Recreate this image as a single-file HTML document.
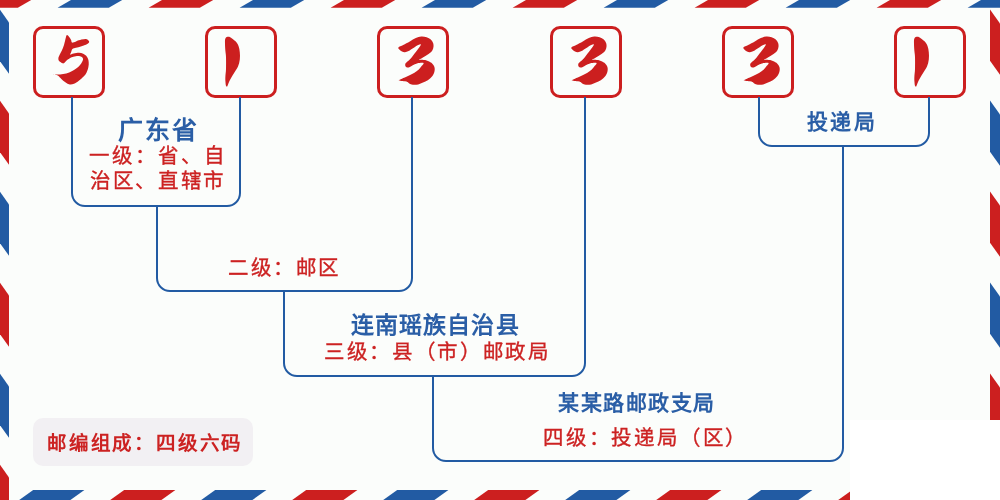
<!DOCTYPE html>
<html lang="zh-CN"><head><meta charset="utf-8"><style>
html,body{margin:0;padding:0;width:1000px;height:500px;overflow:hidden;background:#fbfdfb}
body{position:relative;font-family:"Liberation Serif",serif;-webkit-font-smoothing:antialiased}
svg{position:absolute;left:0;top:0}
.t{position:absolute;line-height:1;white-space:nowrap;will-change:transform}
.r{-webkit-text-stroke:0.35px currentColor}
</style></head><body>
<svg width="1000" height="500" viewBox="0 0 1000 500">
<polygon fill="#225ba3" points="-124.4,7.8 -73.2,7.8 -59.8,0 -111.0,0"/>
<polygon fill="#cc1f1f" points="-33.4,7.8 17.8,7.8 31.2,0 -20.0,0"/>
<polygon fill="#225ba3" points="57.6,7.8 108.8,7.8 122.2,0 71.0,0"/>
<polygon fill="#cc1f1f" points="148.6,7.8 199.8,7.8 213.2,0 162.0,0"/>
<polygon fill="#225ba3" points="239.6,7.8 290.8,7.8 304.2,0 253.0,0"/>
<polygon fill="#cc1f1f" points="330.6,7.8 381.8,7.8 395.2,0 344.0,0"/>
<polygon fill="#225ba3" points="421.6,7.8 472.8,7.8 486.2,0 435.0,0"/>
<polygon fill="#cc1f1f" points="512.6,7.8 563.8,7.8 577.2,0 526.0,0"/>
<polygon fill="#225ba3" points="603.6,7.8 654.8,7.8 668.2,0 617.0,0"/>
<polygon fill="#cc1f1f" points="694.6,7.8 745.8,7.8 759.2,0 708.0,0"/>
<polygon fill="#225ba3" points="785.6,7.8 836.8,7.8 850.2,0 799.0,0"/>
<polygon fill="#cc1f1f" points="876.6,7.8 927.8,7.8 941.2,0 890.0,0"/>
<polygon fill="#225ba3" points="967.6,7.8 1018.8,7.8 1032.2,0 981.0,0"/>
<polygon fill="#cc1f1f" points="-57.8,490 -6.6,490 -20.6,500 -71.8,500"/>
<polygon fill="#225ba3" points="33.2,490 84.4,490 70.4,500 19.2,500"/>
<polygon fill="#cc1f1f" points="124.2,490 175.4,490 161.4,500 110.2,500"/>
<polygon fill="#225ba3" points="215.2,490 266.4,490 252.4,500 201.2,500"/>
<polygon fill="#cc1f1f" points="306.2,490 357.4,490 343.4,500 292.2,500"/>
<polygon fill="#225ba3" points="397.2,490 448.4,490 434.4,500 383.2,500"/>
<polygon fill="#cc1f1f" points="488.2,490 539.4,490 525.4,500 474.2,500"/>
<polygon fill="#225ba3" points="579.2,490 630.4,490 616.4,500 565.2,500"/>
<polygon fill="#cc1f1f" points="670.2,490 721.4,490 707.4,500 656.2,500"/>
<polygon fill="#225ba3" points="761.2,490 812.4,490 798.4,500 747.2,500"/>
<polygon fill="#cc1f1f" points="852.2,490 903.4,490 889.4,500 838.2,500"/>
<polygon fill="#225ba3" points="943.2,490 994.4,490 980.4,500 929.2,500"/>
<polygon fill="#cc1f1f" points="1034.2,490 1085.4,490 1071.4,500 1020.2,500"/>
<polygon fill="#cc1f1f" points="0,-81.2 9,-68.6 9,-17.2 0,-29.8"/>
<polygon fill="#225ba3" points="0,9.8 9,22.4 9,73.8 0,61.2"/>
<polygon fill="#cc1f1f" points="0,100.8 9,113.4 9,164.8 0,152.2"/>
<polygon fill="#225ba3" points="0,191.8 9,204.4 9,255.8 0,243.2"/>
<polygon fill="#cc1f1f" points="0,282.8 9,295.4 9,346.8 0,334.2"/>
<polygon fill="#225ba3" points="0,373.8 9,386.4 9,437.8 0,425.2"/>
<polygon fill="#cc1f1f" points="0,464.8 9,477.4 9,528.8 0,516.2"/>
<polygon fill="#225ba3" points="0,555.8 9,568.4 9,619.8 0,607.2"/>
<polygon fill="#225ba3" points="990,-81.5 1000,-67.5 1000,-16.3 990,-30.3"/>
<polygon fill="#cc1f1f" points="990,9.5 1000,23.5 1000,74.7 990,60.7"/>
<polygon fill="#225ba3" points="990,100.5 1000,114.5 1000,165.7 990,151.7"/>
<polygon fill="#cc1f1f" points="990,191.5 1000,205.5 1000,256.7 990,242.7"/>
<polygon fill="#225ba3" points="990,282.5 1000,296.5 1000,347.7 990,333.7"/>
<polygon fill="#cc1f1f" points="990,373.5 1000,387.5 1000,438.7 990,424.7"/>
<polygon fill="#225ba3" points="990,464.5 1000,478.5 1000,529.7 990,515.7"/>
<polygon fill="#cc1f1f" points="990,555.5 1000,569.5 1000,620.7 990,606.7"/>
<rect x="850" y="420" width="150" height="80" fill="#ffffff"/>
<rect x="34.5" y="27.5" width="69" height="69" rx="8.5" fill="none" stroke="#cc1f1f" stroke-width="3"/>
<path fill="#cc1f1f" transform="translate(33.0,0)" d="M34.0,35.1 C34.6,35.0 35.7,36.4 36.4,37.2 C37.1,38.1 37.8,39.3 38.2,40.2 C38.6,41.1 38.3,42.4 39.1,42.6 C39.9,42.8 41.4,41.9 43.0,41.4 C44.6,40.9 46.8,40.0 48.4,39.6 C50.0,39.2 51.5,39.0 52.6,39.0 C53.7,39.0 54.4,39.4 55.0,39.9 C55.6,40.4 56.2,41.2 56.2,41.7 C56.2,42.2 56.0,42.7 55.3,43.2 C54.6,43.8 53.2,44.5 52.0,45.0 C50.8,45.5 49.3,46.0 47.8,46.5 C46.3,47.0 44.4,47.3 43.0,47.7 C41.6,48.1 40.3,48.0 39.4,48.9 C38.6,49.8 38.3,51.8 37.9,52.8 C37.5,53.8 36.6,54.5 37.0,54.6 C37.4,54.7 39.1,53.7 40.6,53.4 C42.1,53.1 44.4,52.8 46.0,52.8 C47.6,52.8 49.0,53.2 50.2,53.7 C51.4,54.2 52.4,54.9 53.2,55.8 C54.0,56.6 54.6,57.7 55.0,58.8 C55.4,59.9 55.6,60.8 55.7,62.2 C55.8,63.6 55.8,65.3 55.4,67.0 C55.1,68.7 54.4,70.8 53.6,72.4 C52.8,74.0 51.9,75.2 50.6,76.6 C49.3,78.0 47.4,79.6 45.8,80.8 C44.2,82.0 42.5,83.2 41.0,83.8 C39.5,84.4 38.0,84.5 36.8,84.4 C35.6,84.3 34.9,83.8 33.8,83.2 C32.7,82.6 31.3,81.7 30.2,80.8 C29.1,79.9 28.1,78.7 27.2,77.8 C26.3,76.9 25.9,76.0 24.8,75.4 C23.6,74.9 20.4,74.7 20.3,74.5 C20.2,74.3 22.6,74.6 24.2,74.5 C25.9,74.4 28.2,74.2 30.2,73.9 C32.2,73.6 34.4,73.1 36.2,72.4 C38.0,71.8 39.5,70.9 41.0,70.0 C42.5,69.1 44.0,68.1 45.2,67.0 C46.4,65.9 47.4,64.6 48.2,63.4 C49.0,62.2 49.8,60.8 50.0,59.8 C50.2,58.8 49.9,58.0 49.4,57.4 C48.9,56.8 48.1,56.4 47.0,56.2 C45.9,56.0 44.3,56.0 42.8,56.2 C41.3,56.4 39.4,56.8 38.0,57.4 C36.6,58.0 35.4,59.0 34.4,59.8 C33.4,60.6 32.7,61.6 32.0,62.2 C31.3,62.8 30.9,63.4 30.2,63.4 C29.5,63.4 28.5,62.7 27.8,62.2 C27.0,61.7 26.1,61.1 25.7,60.4 C25.3,59.7 25.3,58.8 25.4,58.0 C25.5,57.2 25.7,57.0 26.2,55.8 C26.7,54.6 27.8,52.8 28.6,51.0 C29.4,49.2 30.3,47.2 31.0,45.0 C31.7,42.8 32.3,39.4 32.8,37.8 C33.3,36.1 33.4,35.2 34.0,35.1Z"/>
<rect x="206.5" y="27.5" width="69" height="69" rx="8.5" fill="none" stroke="#cc1f1f" stroke-width="3"/>
<path fill="#cc1f1f" transform="translate(205.0,0)" d="M20.4,38.4 C21.0,37.2 22.3,36.8 23.4,36.8 C24.5,36.8 25.7,37.5 27.0,38.4 C28.3,39.3 30.1,40.7 31.2,42.0 C32.3,43.3 33.0,44.5 33.6,46.2 C34.2,47.9 34.6,50.0 34.8,52.2 C35.0,54.4 35.1,57.0 34.8,59.4 C34.5,61.8 33.9,64.4 33.0,66.6 C32.1,68.8 30.6,70.6 29.4,72.6 C28.2,74.6 26.8,76.8 25.8,78.6 C24.8,80.4 24.0,82.1 23.4,83.4 C22.8,84.7 22.6,86.0 22.2,86.4 C21.8,86.8 21.3,86.7 21.0,85.8 C20.7,84.9 20.5,82.6 20.4,81.0 C20.3,79.4 20.3,78.2 20.4,76.2 C20.5,74.2 20.9,72.2 21.0,69.0 C21.1,65.8 21.1,60.0 21.0,57.0 C20.9,54.0 20.6,53.2 20.4,51.0 C20.2,48.8 20.0,45.9 20.0,43.8 C20.0,41.7 19.8,39.6 20.4,38.4Z"/>
<rect x="378.5" y="27.5" width="69" height="69" rx="8.5" fill="none" stroke="#cc1f1f" stroke-width="3"/>
<path fill="#cc1f1f" transform="translate(377.0,0)" d="M21.4,47.4 C22.0,46.6 24.3,46.0 26.2,45.0 C28.1,44.0 30.7,42.5 32.8,41.4 C34.9,40.2 36.9,38.9 38.8,38.1 C40.7,37.3 42.4,36.8 44.2,36.6 C46.0,36.5 48.0,36.7 49.6,37.2 C51.2,37.7 52.7,38.6 53.8,39.6 C54.9,40.6 55.7,42.0 56.2,43.2 C56.6,44.4 56.6,45.6 56.5,46.8 C56.4,48.0 55.9,49.4 55.3,50.4 C54.8,51.4 54.1,52.0 53.2,52.8 C52.2,53.6 51.0,54.3 49.6,55.2 C48.2,56.1 46.1,57.4 44.8,58.2 C43.5,59.0 41.9,59.7 41.8,60.0 C41.7,60.3 42.9,59.7 44.2,59.8 C45.5,59.9 47.9,59.9 49.6,60.4 C51.3,60.9 53.1,61.7 54.4,62.8 C55.7,63.9 56.9,65.5 57.4,67.0 C57.9,68.5 57.8,70.2 57.4,71.8 C57.0,73.4 56.1,75.2 55.0,76.6 C53.9,78.0 52.3,79.2 50.8,80.2 C49.3,81.2 47.6,81.9 46.0,82.6 C44.4,83.3 42.9,84.1 41.2,84.4 C39.5,84.8 37.3,84.9 35.8,84.7 C34.3,84.5 33.1,84.0 32.2,83.5 C31.3,83.0 31.5,82.4 30.4,82.0 C29.3,81.6 27.1,81.3 25.6,81.1 C24.2,80.8 21.8,80.9 21.7,80.5 C21.6,80.1 23.4,79.5 25.0,78.7 C26.6,78.0 29.0,77.0 31.0,76.0 C33.0,75.0 35.2,74.1 37.0,73.0 C38.8,71.9 40.5,70.6 41.8,69.4 C43.1,68.2 44.0,66.8 44.8,65.8 C45.6,64.8 46.6,63.9 46.6,63.4 C46.6,62.9 45.9,62.8 44.8,62.8 C43.7,62.8 41.5,63.0 40.0,63.4 C38.5,63.8 37.0,64.6 35.8,65.2 C34.6,65.8 33.7,66.6 32.8,67.0 C31.9,67.4 31.1,67.7 30.4,67.6 C29.7,67.5 29.0,67.0 28.6,66.4 C28.3,65.8 28.0,64.8 28.3,64.0 C28.6,63.2 29.4,62.6 30.4,61.6 C31.3,60.6 32.7,59.7 34.0,58.2 C35.3,56.7 36.9,54.5 38.2,52.8 C39.5,51.1 40.9,49.4 41.8,48.0 C42.8,46.6 44.0,44.9 43.9,44.4 C43.8,43.9 42.4,44.4 41.2,45.0 C39.9,45.6 38.0,47.0 36.4,48.0 C34.8,49.0 33.0,50.3 31.6,51.0 C30.2,51.7 29.1,52.1 28.0,52.2 C26.9,52.3 25.9,52.0 25.0,51.6 C24.1,51.2 23.2,50.5 22.6,49.8 C22.0,49.1 20.8,48.2 21.4,47.4Z"/>
<rect x="551.5" y="27.5" width="69" height="69" rx="8.5" fill="none" stroke="#cc1f1f" stroke-width="3"/>
<path fill="#cc1f1f" transform="translate(550.0,0)" d="M21.4,47.4 C22.0,46.6 24.3,46.0 26.2,45.0 C28.1,44.0 30.7,42.5 32.8,41.4 C34.9,40.2 36.9,38.9 38.8,38.1 C40.7,37.3 42.4,36.8 44.2,36.6 C46.0,36.5 48.0,36.7 49.6,37.2 C51.2,37.7 52.7,38.6 53.8,39.6 C54.9,40.6 55.7,42.0 56.2,43.2 C56.6,44.4 56.6,45.6 56.5,46.8 C56.4,48.0 55.9,49.4 55.3,50.4 C54.8,51.4 54.1,52.0 53.2,52.8 C52.2,53.6 51.0,54.3 49.6,55.2 C48.2,56.1 46.1,57.4 44.8,58.2 C43.5,59.0 41.9,59.7 41.8,60.0 C41.7,60.3 42.9,59.7 44.2,59.8 C45.5,59.9 47.9,59.9 49.6,60.4 C51.3,60.9 53.1,61.7 54.4,62.8 C55.7,63.9 56.9,65.5 57.4,67.0 C57.9,68.5 57.8,70.2 57.4,71.8 C57.0,73.4 56.1,75.2 55.0,76.6 C53.9,78.0 52.3,79.2 50.8,80.2 C49.3,81.2 47.6,81.9 46.0,82.6 C44.4,83.3 42.9,84.1 41.2,84.4 C39.5,84.8 37.3,84.9 35.8,84.7 C34.3,84.5 33.1,84.0 32.2,83.5 C31.3,83.0 31.5,82.4 30.4,82.0 C29.3,81.6 27.1,81.3 25.6,81.1 C24.2,80.8 21.8,80.9 21.7,80.5 C21.6,80.1 23.4,79.5 25.0,78.7 C26.6,78.0 29.0,77.0 31.0,76.0 C33.0,75.0 35.2,74.1 37.0,73.0 C38.8,71.9 40.5,70.6 41.8,69.4 C43.1,68.2 44.0,66.8 44.8,65.8 C45.6,64.8 46.6,63.9 46.6,63.4 C46.6,62.9 45.9,62.8 44.8,62.8 C43.7,62.8 41.5,63.0 40.0,63.4 C38.5,63.8 37.0,64.6 35.8,65.2 C34.6,65.8 33.7,66.6 32.8,67.0 C31.9,67.4 31.1,67.7 30.4,67.6 C29.7,67.5 29.0,67.0 28.6,66.4 C28.3,65.8 28.0,64.8 28.3,64.0 C28.6,63.2 29.4,62.6 30.4,61.6 C31.3,60.6 32.7,59.7 34.0,58.2 C35.3,56.7 36.9,54.5 38.2,52.8 C39.5,51.1 40.9,49.4 41.8,48.0 C42.8,46.6 44.0,44.9 43.9,44.4 C43.8,43.9 42.4,44.4 41.2,45.0 C39.9,45.6 38.0,47.0 36.4,48.0 C34.8,49.0 33.0,50.3 31.6,51.0 C30.2,51.7 29.1,52.1 28.0,52.2 C26.9,52.3 25.9,52.0 25.0,51.6 C24.1,51.2 23.2,50.5 22.6,49.8 C22.0,49.1 20.8,48.2 21.4,47.4Z"/>
<rect x="723.5" y="27.5" width="69" height="69" rx="8.5" fill="none" stroke="#cc1f1f" stroke-width="3"/>
<path fill="#cc1f1f" transform="translate(722.0,0)" d="M21.4,47.4 C22.0,46.6 24.3,46.0 26.2,45.0 C28.1,44.0 30.7,42.5 32.8,41.4 C34.9,40.2 36.9,38.9 38.8,38.1 C40.7,37.3 42.4,36.8 44.2,36.6 C46.0,36.5 48.0,36.7 49.6,37.2 C51.2,37.7 52.7,38.6 53.8,39.6 C54.9,40.6 55.7,42.0 56.2,43.2 C56.6,44.4 56.6,45.6 56.5,46.8 C56.4,48.0 55.9,49.4 55.3,50.4 C54.8,51.4 54.1,52.0 53.2,52.8 C52.2,53.6 51.0,54.3 49.6,55.2 C48.2,56.1 46.1,57.4 44.8,58.2 C43.5,59.0 41.9,59.7 41.8,60.0 C41.7,60.3 42.9,59.7 44.2,59.8 C45.5,59.9 47.9,59.9 49.6,60.4 C51.3,60.9 53.1,61.7 54.4,62.8 C55.7,63.9 56.9,65.5 57.4,67.0 C57.9,68.5 57.8,70.2 57.4,71.8 C57.0,73.4 56.1,75.2 55.0,76.6 C53.9,78.0 52.3,79.2 50.8,80.2 C49.3,81.2 47.6,81.9 46.0,82.6 C44.4,83.3 42.9,84.1 41.2,84.4 C39.5,84.8 37.3,84.9 35.8,84.7 C34.3,84.5 33.1,84.0 32.2,83.5 C31.3,83.0 31.5,82.4 30.4,82.0 C29.3,81.6 27.1,81.3 25.6,81.1 C24.2,80.8 21.8,80.9 21.7,80.5 C21.6,80.1 23.4,79.5 25.0,78.7 C26.6,78.0 29.0,77.0 31.0,76.0 C33.0,75.0 35.2,74.1 37.0,73.0 C38.8,71.9 40.5,70.6 41.8,69.4 C43.1,68.2 44.0,66.8 44.8,65.8 C45.6,64.8 46.6,63.9 46.6,63.4 C46.6,62.9 45.9,62.8 44.8,62.8 C43.7,62.8 41.5,63.0 40.0,63.4 C38.5,63.8 37.0,64.6 35.8,65.2 C34.6,65.8 33.7,66.6 32.8,67.0 C31.9,67.4 31.1,67.7 30.4,67.6 C29.7,67.5 29.0,67.0 28.6,66.4 C28.3,65.8 28.0,64.8 28.3,64.0 C28.6,63.2 29.4,62.6 30.4,61.6 C31.3,60.6 32.7,59.7 34.0,58.2 C35.3,56.7 36.9,54.5 38.2,52.8 C39.5,51.1 40.9,49.4 41.8,48.0 C42.8,46.6 44.0,44.9 43.9,44.4 C43.8,43.9 42.4,44.4 41.2,45.0 C39.9,45.6 38.0,47.0 36.4,48.0 C34.8,49.0 33.0,50.3 31.6,51.0 C30.2,51.7 29.1,52.1 28.0,52.2 C26.9,52.3 25.9,52.0 25.0,51.6 C24.1,51.2 23.2,50.5 22.6,49.8 C22.0,49.1 20.8,48.2 21.4,47.4Z"/>
<rect x="895.5" y="27.5" width="69" height="69" rx="8.5" fill="none" stroke="#cc1f1f" stroke-width="3"/>
<path fill="#cc1f1f" transform="translate(894.0,0)" d="M20.4,38.4 C21.0,37.2 22.3,36.8 23.4,36.8 C24.5,36.8 25.7,37.5 27.0,38.4 C28.3,39.3 30.1,40.7 31.2,42.0 C32.3,43.3 33.0,44.5 33.6,46.2 C34.2,47.9 34.6,50.0 34.8,52.2 C35.0,54.4 35.1,57.0 34.8,59.4 C34.5,61.8 33.9,64.4 33.0,66.6 C32.1,68.8 30.6,70.6 29.4,72.6 C28.2,74.6 26.8,76.8 25.8,78.6 C24.8,80.4 24.0,82.1 23.4,83.4 C22.8,84.7 22.6,86.0 22.2,86.4 C21.8,86.8 21.3,86.7 21.0,85.8 C20.7,84.9 20.5,82.6 20.4,81.0 C20.3,79.4 20.3,78.2 20.4,76.2 C20.5,74.2 20.9,72.2 21.0,69.0 C21.1,65.8 21.1,60.0 21.0,57.0 C20.9,54.0 20.6,53.2 20.4,51.0 C20.2,48.8 20.0,45.9 20.0,43.8 C20.0,41.7 19.8,39.6 20.4,38.4Z"/>
<path fill="none" stroke="#225ba3" stroke-width="2" d="M72.0,97.0 V193.0 A13.0,13.0 0 0 0 85.0,206.0 H227.0 A13.0,13.0 0 0 0 240.0,193.0 V97.0"/>
<path fill="none" stroke="#225ba3" stroke-width="2" d="M157.0,205.0 V278.0 A13.0,13.0 0 0 0 170.0,291.0 H399.0 A13.0,13.0 0 0 0 412.0,278.0 V97.0"/>
<path fill="none" stroke="#225ba3" stroke-width="2" d="M284.0,290.0 V363.0 A13.0,13.0 0 0 0 297.0,376.0 H572.0 A13.0,13.0 0 0 0 585.0,363.0 V97.0"/>
<path fill="none" stroke="#225ba3" stroke-width="2" d="M759.0,97.0 V133.0 A13.0,13.0 0 0 0 772.0,146.0 H916.0 A13.0,13.0 0 0 0 929.0,133.0 V97.0"/>
<path fill="none" stroke="#225ba3" stroke-width="2" d="M433.0,375.0 V448.0 A13.0,13.0 0 0 0 446.0,461.0 H830.0 A13.0,13.0 0 0 0 843.0,448.0 V146.0"/>
<rect x="33" y="418" width="220" height="48" rx="10" fill="#f2f0f3"/>
</svg>
<div class="t" style="left:118.00px;top:118.00px;font-size:25.0px;color:#2a5ea6;font-weight:bold;letter-spacing:2.00px">广东省</div>
<div class="t r" style="left:88.80px;top:146.40px;font-size:20.5px;color:#cc2222;font-weight:500;letter-spacing:2.96px">一级：省、自</div>
<div class="t r" style="left:89.60px;top:170.90px;font-size:20.5px;color:#cc2222;font-weight:500;letter-spacing:2.68px">治区、直辖市</div>
<div class="t r" style="left:228.40px;top:258.40px;font-size:20.5px;color:#cc2222;font-weight:500;letter-spacing:2.53px">二级：邮区</div>
<div class="t" style="left:351.40px;top:314.20px;font-size:23.0px;color:#2a5ea6;font-weight:bold;letter-spacing:1.10px">连南瑶族自治县</div>
<div class="t r" style="left:323.60px;top:342.20px;font-size:20.5px;color:#cc2222;font-weight:500;letter-spacing:2.67px">三级：县（市）邮政局</div>
<div class="t" style="left:558.00px;top:393.00px;font-size:21.0px;color:#2a5ea6;font-weight:bold;letter-spacing:1.50px">某某路邮政支局</div>
<div class="t r" style="left:543.00px;top:428.00px;font-size:20.5px;color:#cc2222;font-weight:500;letter-spacing:2.81px">四级：投递局（区）</div>
<div class="t" style="left:807.20px;top:111.80px;font-size:21.0px;color:#2a5ea6;font-weight:bold;letter-spacing:2.40px">投递局</div>
<div class="t" style="left:47.00px;top:433.50px;font-size:19.5px;color:#cc2222;font-weight:bold;letter-spacing:1.81px">邮编组成：四级六码</div>
</body></html>
